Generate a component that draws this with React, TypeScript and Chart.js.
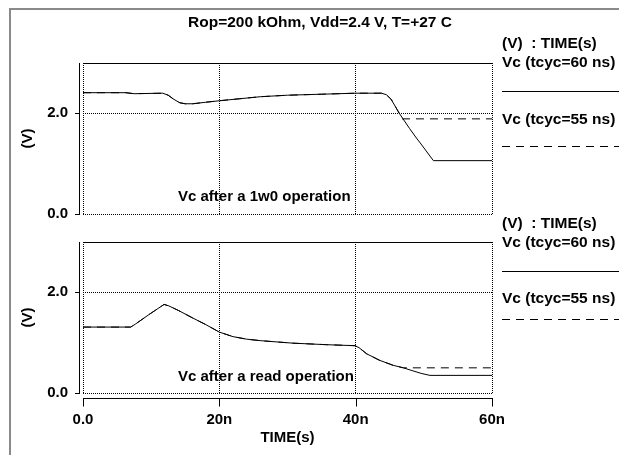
import React, { useEffect, useRef } from "react";
import { Chart, registerables } from "chart.js";

Chart.register(...registerables);

const FONT_FAMILY = '"Liberation Sans", Arial, Helvetica, sans-serif';

// ---- data (time in ns, voltage in V) ----
const topTime60 = [0, 6.3, 7.5, 11.7, 12.5, 13.3, 14.2, 15.0, 16.1, 18, 20, 23, 26, 30, 35, 40, 43.8, 44.5, 45.2, 46.4, 47.9, 48.8, 49.7, 51.4, 60];
const topV60 = [2.41, 2.41, 2.39, 2.4, 2.36, 2.28, 2.21, 2.19, 2.19, 2.22, 2.25, 2.29, 2.33, 2.36, 2.38, 2.4, 2.4, 2.37, 2.28, 2.0, 1.7, 1.53, 1.37, 1.06, 1.06];
const topTime55 = [0, 6.3, 7.5, 11.7, 12.5, 13.3, 14.2, 15.0, 16.1, 18, 20, 23, 26, 30, 35, 40, 43.8, 44.5, 45.2, 46.4, 46.75, 60];
const topV55 = [2.41, 2.41, 2.39, 2.4, 2.36, 2.28, 2.21, 2.19, 2.19, 2.22, 2.25, 2.29, 2.33, 2.36, 2.38, 2.4, 2.4, 2.37, 2.28, 2.0, 1.89, 1.89];

const botTime60 = [0, 7.0, 7.7, 9.7, 11.9, 12.6, 14, 16.1, 18, 20, 22, 24, 26, 30.8, 35.7, 39.9, 40.5, 41.6, 43.5, 45.5, 47, 48.4, 49.6, 50.9, 60];
const botV60 = [1.31, 1.31, 1.37, 1.56, 1.76, 1.73, 1.64, 1.49, 1.36, 1.21, 1.12, 1.07, 1.04, 0.99, 0.96, 0.94, 0.9, 0.78, 0.65, 0.55, 0.5, 0.44, 0.39, 0.35, 0.35];
const botTime55 = [0, 7.0, 7.7, 9.7, 11.9, 12.6, 14, 16.1, 18, 20, 22, 24, 26, 30.8, 35.7, 39.9, 40.5, 41.6, 43.5, 45.5, 47, 60];
const botV55 = [1.31, 1.31, 1.37, 1.56, 1.76, 1.73, 1.64, 1.49, 1.36, 1.21, 1.12, 1.07, 1.04, 0.99, 0.96, 0.94, 0.9, 0.78, 0.65, 0.55, 0.5, 0.5];

// ---- ticks and texts ----
const xTickValues = [0, 20, 40, 60];
const xTickLabels = ["0.0", "20n", "40n", "60n"];
const yTickValues = [0, 2];
const yTickLabels = ["0.0", "2.0"];
const chartTitle = "Rop=200 kOhm, Vdd=2.4 V, T=+27 C";
const legendHeader = "(V)  : TIME(s)";
const seriesNames = ["Vc (tcyc=60 ns)", "Vc (tcyc=55 ns)"];
const topNote = "Vc after a 1w0 operation";
const botNote = "Vc after a read operation";
const yAxisTitle = "(V)";
const xAxisTitle = "TIME(s)";

const toPoints = (t: number[], v: number[]) => t.map((x, i) => ({ x, y: v[i] }));

type PanelProps = {
  top: number;
  height: number;
  padTop: number;
  padBottom: number;
  xHeight: number;
  showX: boolean;
  t60: number[];
  v60: number[];
  t55: number[];
  v55: number[];
  note: string;
  noteY: number;
  legendY: number[];
  title?: boolean;
};

function makeDecor(p: PanelProps) {
  return {
    id: "decor",
    afterDraw(chart: any) {
      const ctx = chart.ctx as CanvasRenderingContext2D;
      const a = chart.chartArea;
      const ys = chart.scales.y;
      const xs = chart.scales.x;
      const off = p.top;
      ctx.save();
      ctx.strokeStyle = "#000";
      ctx.lineWidth = 1;
      ctx.setLineDash([]);
      // solid top border of plot
      ctx.beginPath();
      ctx.moveTo(Math.round(a.left), Math.round(a.top) + 0.5);
      ctx.lineTo(Math.round(a.right) + 1, Math.round(a.top) + 0.5);
      ctx.stroke();
      // offset y axis line with ticks
      const ax = Math.round(a.left) - 4 + 0.5;
      ctx.beginPath();
      ctx.moveTo(ax, Math.round(a.top));
      ctx.lineTo(ax, Math.round(a.bottom) + 1);
      yTickValues.forEach((v) => {
        const y = Math.round(ys.getPixelForValue(v)) + 0.5;
        ctx.moveTo(ax - 4.5, y);
        ctx.lineTo(ax, y);
      });
      ctx.stroke();
      if (p.showX) {
        const ay = Math.round(a.bottom) + 5 + 0.5;
        ctx.beginPath();
        ctx.moveTo(Math.round(a.left), ay);
        ctx.lineTo(Math.round(a.right) + 1, ay);
        xTickValues.forEach((v) => {
          const x = Math.round(xs.getPixelForValue(v)) + 0.5;
          ctx.moveTo(x, ay - 0.5);
          ctx.lineTo(x, ay + 8);
        });
        ctx.stroke();
      }
      // texts
      ctx.fillStyle = "#000";
      ctx.font = `bold 15px ${FONT_FAMILY}`;
      ctx.textBaseline = "middle";
      ctx.textAlign = "left";
      ctx.fillText(p.note, 178, p.noteY - off);
      const lx = 502;
      ctx.font = `bold 15.5px ${FONT_FAMILY}`;
      ctx.fillText(legendHeader, lx, p.legendY[0] - off);
      ctx.fillText(seriesNames[0], lx, p.legendY[1] - off);
      ctx.fillText(seriesNames[1], lx, p.legendY[3] - off);
      ctx.beginPath();
      ctx.moveTo(lx, p.legendY[2] - off + 0.5);
      ctx.lineTo(619, p.legendY[2] - off + 0.5);
      ctx.stroke();
      ctx.setLineDash([8, 6]);
      ctx.beginPath();
      ctx.moveTo(lx, p.legendY[4] - off + 0.5);
      ctx.lineTo(619, p.legendY[4] - off + 0.5);
      ctx.stroke();
      ctx.setLineDash([]);
      if (p.title) {
        ctx.textAlign = "center";
        ctx.font = `bold 15.5px ${FONT_FAMILY}`;
        ctx.fillText(chartTitle, 320, 23 - off);
      }
      ctx.restore();
    },
  };
}

function Panel(p: PanelProps) {
  const ref = useRef<HTMLCanvasElement | null>(null);
  useEffect(() => {
    if (!ref.current) return;
    const font = { family: FONT_FAMILY, size: 15, weight: "bold" as const };
    const chart = new Chart(ref.current, {
      type: "line",
      data: {
        datasets: [
          {
            label: seriesNames[1],
            data: toPoints(p.t55, p.v55),
            borderColor: "#000",
            borderWidth: 1,
            borderDash: [8, 6],
            pointRadius: 0,
            tension: 0,
            fill: false,
          },
          {
            label: seriesNames[0],
            data: toPoints(p.t60, p.v60),
            borderColor: "#000",
            borderWidth: 1,
            pointRadius: 0,
            tension: 0,
            fill: false,
          },
        ],
      },
      options: {
        responsive: false,
        animation: false,
        devicePixelRatio: 1,
        layout: { padding: { left: 0, right: 127, top: p.padTop, bottom: p.padBottom } },
        plugins: { legend: { display: false }, tooltip: { enabled: false }, title: { display: false } },
        scales: {
          x: {
            type: "linear",
            min: 0,
            max: 60,
            afterBuildTicks: (s: any) => {
              s.ticks = xTickValues.map((v) => ({ value: v }));
            },
            afterFit: (s: any) => {
              s.height = p.xHeight;
              s.paddingLeft = 0;
              s.paddingRight = 0;
            },
            ticks: {
              display: p.showX,
              color: "#000",
              font,
              padding: 18,
              maxRotation: 0,
              callback: (_v: any, i: number) => xTickLabels[i],
            },
            grid: { color: "#000", lineWidth: 1, drawTicks: false },
            border: { display: false, dash: [1, 1] },
            title: {
              display: p.showX,
              text: xAxisTitle,
              color: "#000",
              font,
              padding: { top: 0, bottom: 8 },
            },
          },
          y: {
            type: "linear",
            min: 0,
            max: 3,
            afterBuildTicks: (s: any) => {
              s.ticks = yTickValues.map((v) => ({ value: v }));
            },
            afterFit: (s: any) => {
              s.width = 83;
              s.paddingTop = 0;
              s.paddingBottom = 0;
            },
            ticks: {
              color: "#000",
              font,
              padding: 15,
              callback: (_v: any, i: number) => yTickLabels[i],
            },
            grid: { color: "#000", lineWidth: 1, drawTicks: false },
            border: { display: false, dash: [1, 1] },
            title: {
              display: true,
              text: yAxisTitle,
              color: "#000",
              font,
              padding: { top: 19, bottom: 0 },
            },
          },
        },
      },
      plugins: [makeDecor(p)],
    });
    return () => chart.destroy();
  }, []);
  return (
    <canvas
      ref={ref}
      width={619}
      height={p.height}
      style={{ position: "absolute", left: 0, top: p.top, width: 619, height: p.height }}
    />
  );
}

export default function App() {
  return (
    <div
      style={{
        position: "absolute",
        left: 0,
        top: 0,
        width: 619,
        height: 455,
        overflow: "hidden",
        background: "#fff",
      }}
    >
      <div
        style={{
          position: "absolute",
          left: 9,
          top: 8,
          width: 700,
          height: 445,
          borderLeft: "2px solid #8a8a8a",
          borderTop: "2px solid #8a8a8a",
        }}
      />
      <Panel
        top={0}
        height={230}
        padTop={63}
        padBottom={16}
        xHeight={0}
        showX={false}
        t60={topTime60}
        v60={topV60}
        t55={topTime55}
        v55={topV55}
        note={topNote}
        noteY={197}
        legendY={[44, 63, 91, 120, 146]}
        title
      />
      <Panel
        top={212}
        height={243}
        padTop={30}
        padBottom={0}
        xHeight={62}
        showX={true}
        t60={botTime60}
        v60={botV60}
        t55={botTime55}
        v55={botV55}
        note={botNote}
        noteY={377}
        legendY={[224, 243, 271, 299, 319]}
      />
    </div>
  );
}
